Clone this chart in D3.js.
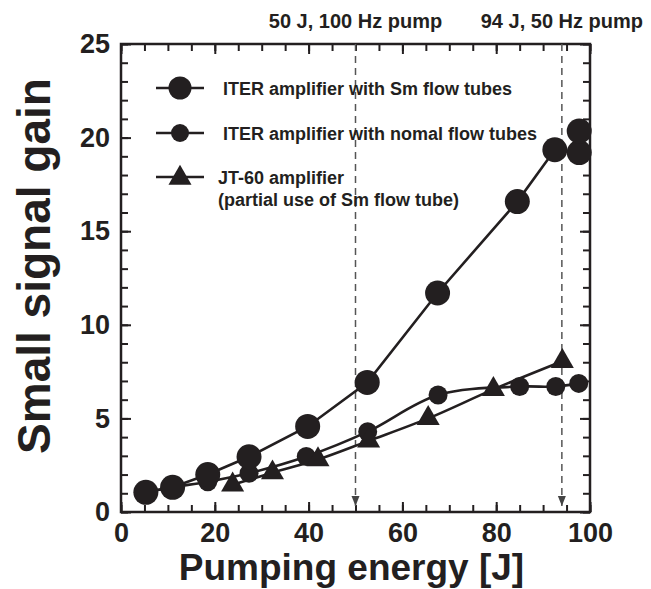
<!DOCTYPE html>
<html>
<head>
<meta charset="utf-8">
<script src="https://cdn.jsdelivr.net/npm/d3@7"></script>
<style>
  body { margin: 0; background: #fff; }
  svg text { font-family: "Liberation Sans", Arial, sans-serif; font-weight: bold; fill: #231f20; }
</style>
</head>
<body>
<div id="chart"></div>
<script>
// data
var smEnergy = [5.3, 11, 18.5, 27.3, 39.8, 52.5, 67.5, 84.5, 92.5, 97.7, 97.7];
var smGain   = [1.05, 1.32, 2.0, 2.95, 4.57, 6.92, 11.7, 16.58, 19.35, 19.2, 20.35];

var normalEnergy = [5.3, 11, 18.5, 27.3, 39.5, 52.6, 67.6, 85, 92.7, 97.6];
var normalGain   = [1.05, 1.32, 1.62, 2.07, 2.96, 4.29, 6.25, 6.7, 6.7, 6.87];

var jtEnergy = [23.8, 32.3, 42, 52.8, 65.5, 79.4, 94.1];
var jtGain   = [1.45, 2.1, 2.8, 3.8, 5.0, 6.55, 8.05];

var xTicks = [0, 20, 40, 60, 80, 100];
var yTicks = [0, 5, 10, 15, 20, 25];

var pumpMarks = [50, 94];
var pumpLabels = ["50 J, 100 Hz pump", "94 J, 50 Hz pump"];

var legendLabels = [
  ["ITER amplifier with Sm flow tubes"],
  ["ITER amplifier with nomal flow tubes"],
  ["JT-60 amplifier", "(partial use of Sm flow tube)"]
];

var ink = "#231f20";
var margin = {top: 44, left: 121},
    width = 469,
    height = 468;

var svg = d3.select("#chart")
  .append("svg")
  .attr("width", 651)
  .attr("height", 589);

var g = svg.append("g")
  .attr("transform", "translate(" + margin.left + "," + margin.top + ")");

var x = d3.scaleLinear().domain([0, 100]).range([0, width]);
var y = d3.scaleLinear().domain([0, 25]).range([height, 0]);

// ticks: minor every 5 J / 1 unit, major with labels
function styleAxis(sel) {
  sel.select(".domain").remove();
  sel.selectAll(".tick line").attr("stroke", ink).attr("stroke-width", 2);
  sel.selectAll(".tick text").style("font-size", "27px").attr("fill", ink);
}

g.append("g").attr("transform", "translate(0," + height + ")")
  .call(d3.axisBottom(x).tickValues(d3.range(0, 101, 5)).tickSize(-7).tickFormat(""))
  .call(styleAxis);
g.append("g").attr("transform", "translate(0," + height + ")")
  .call(d3.axisBottom(x).tickValues(xTicks).tickSize(-10).tickPadding(11))
  .call(styleAxis);
g.append("g")
  .call(d3.axisTop(x).tickValues(d3.range(0, 101, 5)).tickSize(-7).tickFormat(""))
  .call(styleAxis);
g.append("g")
  .call(d3.axisTop(x).tickValues(xTicks).tickSize(-10).tickFormat(""))
  .call(styleAxis);

g.append("g")
  .call(d3.axisLeft(y).tickValues(d3.range(0, 26, 1)).tickSize(-7).tickFormat(""))
  .call(styleAxis);
g.append("g")
  .call(d3.axisLeft(y).tickValues(yTicks).tickSize(-10).tickPadding(11))
  .call(styleAxis);
g.append("g").attr("transform", "translate(" + width + ",0)")
  .call(d3.axisRight(y).tickValues(d3.range(0, 26, 1)).tickSize(-7).tickFormat(""))
  .call(styleAxis);
g.append("g").attr("transform", "translate(" + width + ",0)")
  .call(d3.axisRight(y).tickValues(yTicks).tickSize(-10).tickFormat(""))
  .call(styleAxis);

g.append("rect")
  .attr("width", width).attr("height", height)
  .attr("fill", "none").attr("stroke", ink).attr("stroke-width", 2.5);

// dashed pump markers with small arrow heads
pumpMarks.forEach(function (p, i) {
  g.append("line")
    .attr("x1", x(p)).attr("x2", x(p))
    .attr("y1", 0).attr("y2", height - 6)
    .attr("stroke", "#555").attr("stroke-width", 1.5)
    .attr("stroke-dasharray", "7,5");
  g.append("path")
    .attr("d", "M" + (x(p) - 4) + "," + (height - 16) + "L" + (x(p) + 4) + "," + (height - 16) + "L" + x(p) + "," + (height - 6) + "Z")
    .attr("fill", "#444");
  svg.append("text")
    .attr("x", margin.left + x(p))
    .attr("y", 28)
    .attr("text-anchor", "middle")
    .style("font-size", "20px")
    .text(pumpLabels[i]);
});

// series
var straight = d3.line()
  .x(function (d) { return x(d[0]); })
  .y(function (d) { return y(d[1]); });
var smooth = d3.line()
  .x(function (d) { return x(d[0]); })
  .y(function (d) { return y(d[1]); })
  .curve(d3.curveCatmullRom.alpha(0.5));

var sm = d3.zip(smEnergy, smGain);
var normal = d3.zip(normalEnergy, normalGain);
var jt = d3.zip(jtEnergy, jtGain);

[[sm, straight], [normal, smooth], [jt, smooth]].forEach(function (s) {
  g.append("path")
    .datum(s[0])
    .attr("d", s[1])
    .attr("fill", "none")
    .attr("stroke", ink)
    .attr("stroke-width", 2.6);
});

var tri = d3.symbol().type(d3.symbolTriangle).size(230);

g.selectAll(".normal").data(normal).enter().append("circle")
  .attr("cx", function (d) { return x(d[0]); })
  .attr("cy", function (d) { return y(d[1]); })
  .attr("r", 9.5).attr("fill", ink);

g.selectAll(".jt").data(jt).enter().append("path")
  .attr("d", tri)
  .attr("transform", function (d) { return "translate(" + x(d[0]) + "," + y(d[1]) + ")"; })
  .attr("fill", ink);

g.selectAll(".sm").data(sm).enter().append("circle")
  .attr("cx", function (d) { return x(d[0]); })
  .attr("cy", function (d) { return y(d[1]); })
  .attr("r", 12.5).attr("fill", ink);

// legend
var legY = [88, 133, 177];
legendLabels.forEach(function (lab, i) {
  var row = svg.append("g").attr("transform", "translate(0," + legY[i] + ")");
  row.append("line").attr("x1", 156).attr("x2", 204).attr("y1", 0).attr("y2", 0)
    .attr("stroke", ink).attr("stroke-width", 2.6);
  if (i === 0) row.append("circle").attr("cx", 180).attr("r", 11.5).attr("fill", ink);
  if (i === 1) row.append("circle").attr("cx", 180).attr("r", 9).attr("fill", ink);
  if (i === 2) row.append("path").attr("d", tri).attr("transform", "translate(180,1)").attr("fill", ink);
  lab.forEach(function (t, j) {
    row.append("text")
      .attr("x", i === 2 ? 218 : 223)
      .attr("y", 6.5 + j * 22)
      .style("font-size", "18px")
      .text(t);
  });
});

// axis titles
svg.append("text")
  .attr("x", margin.left + width / 2 - 4)
  .attr("y", 580)
  .attr("text-anchor", "middle")
  .style("font-size", "37px")
  .text("Pumping energy [J]");

svg.append("text")
  .attr("transform", "translate(50,266) rotate(-90)")
  .attr("text-anchor", "middle")
  .style("font-size", "46px")
  .text("Small signal gain");
</script>
</body>
</html>
